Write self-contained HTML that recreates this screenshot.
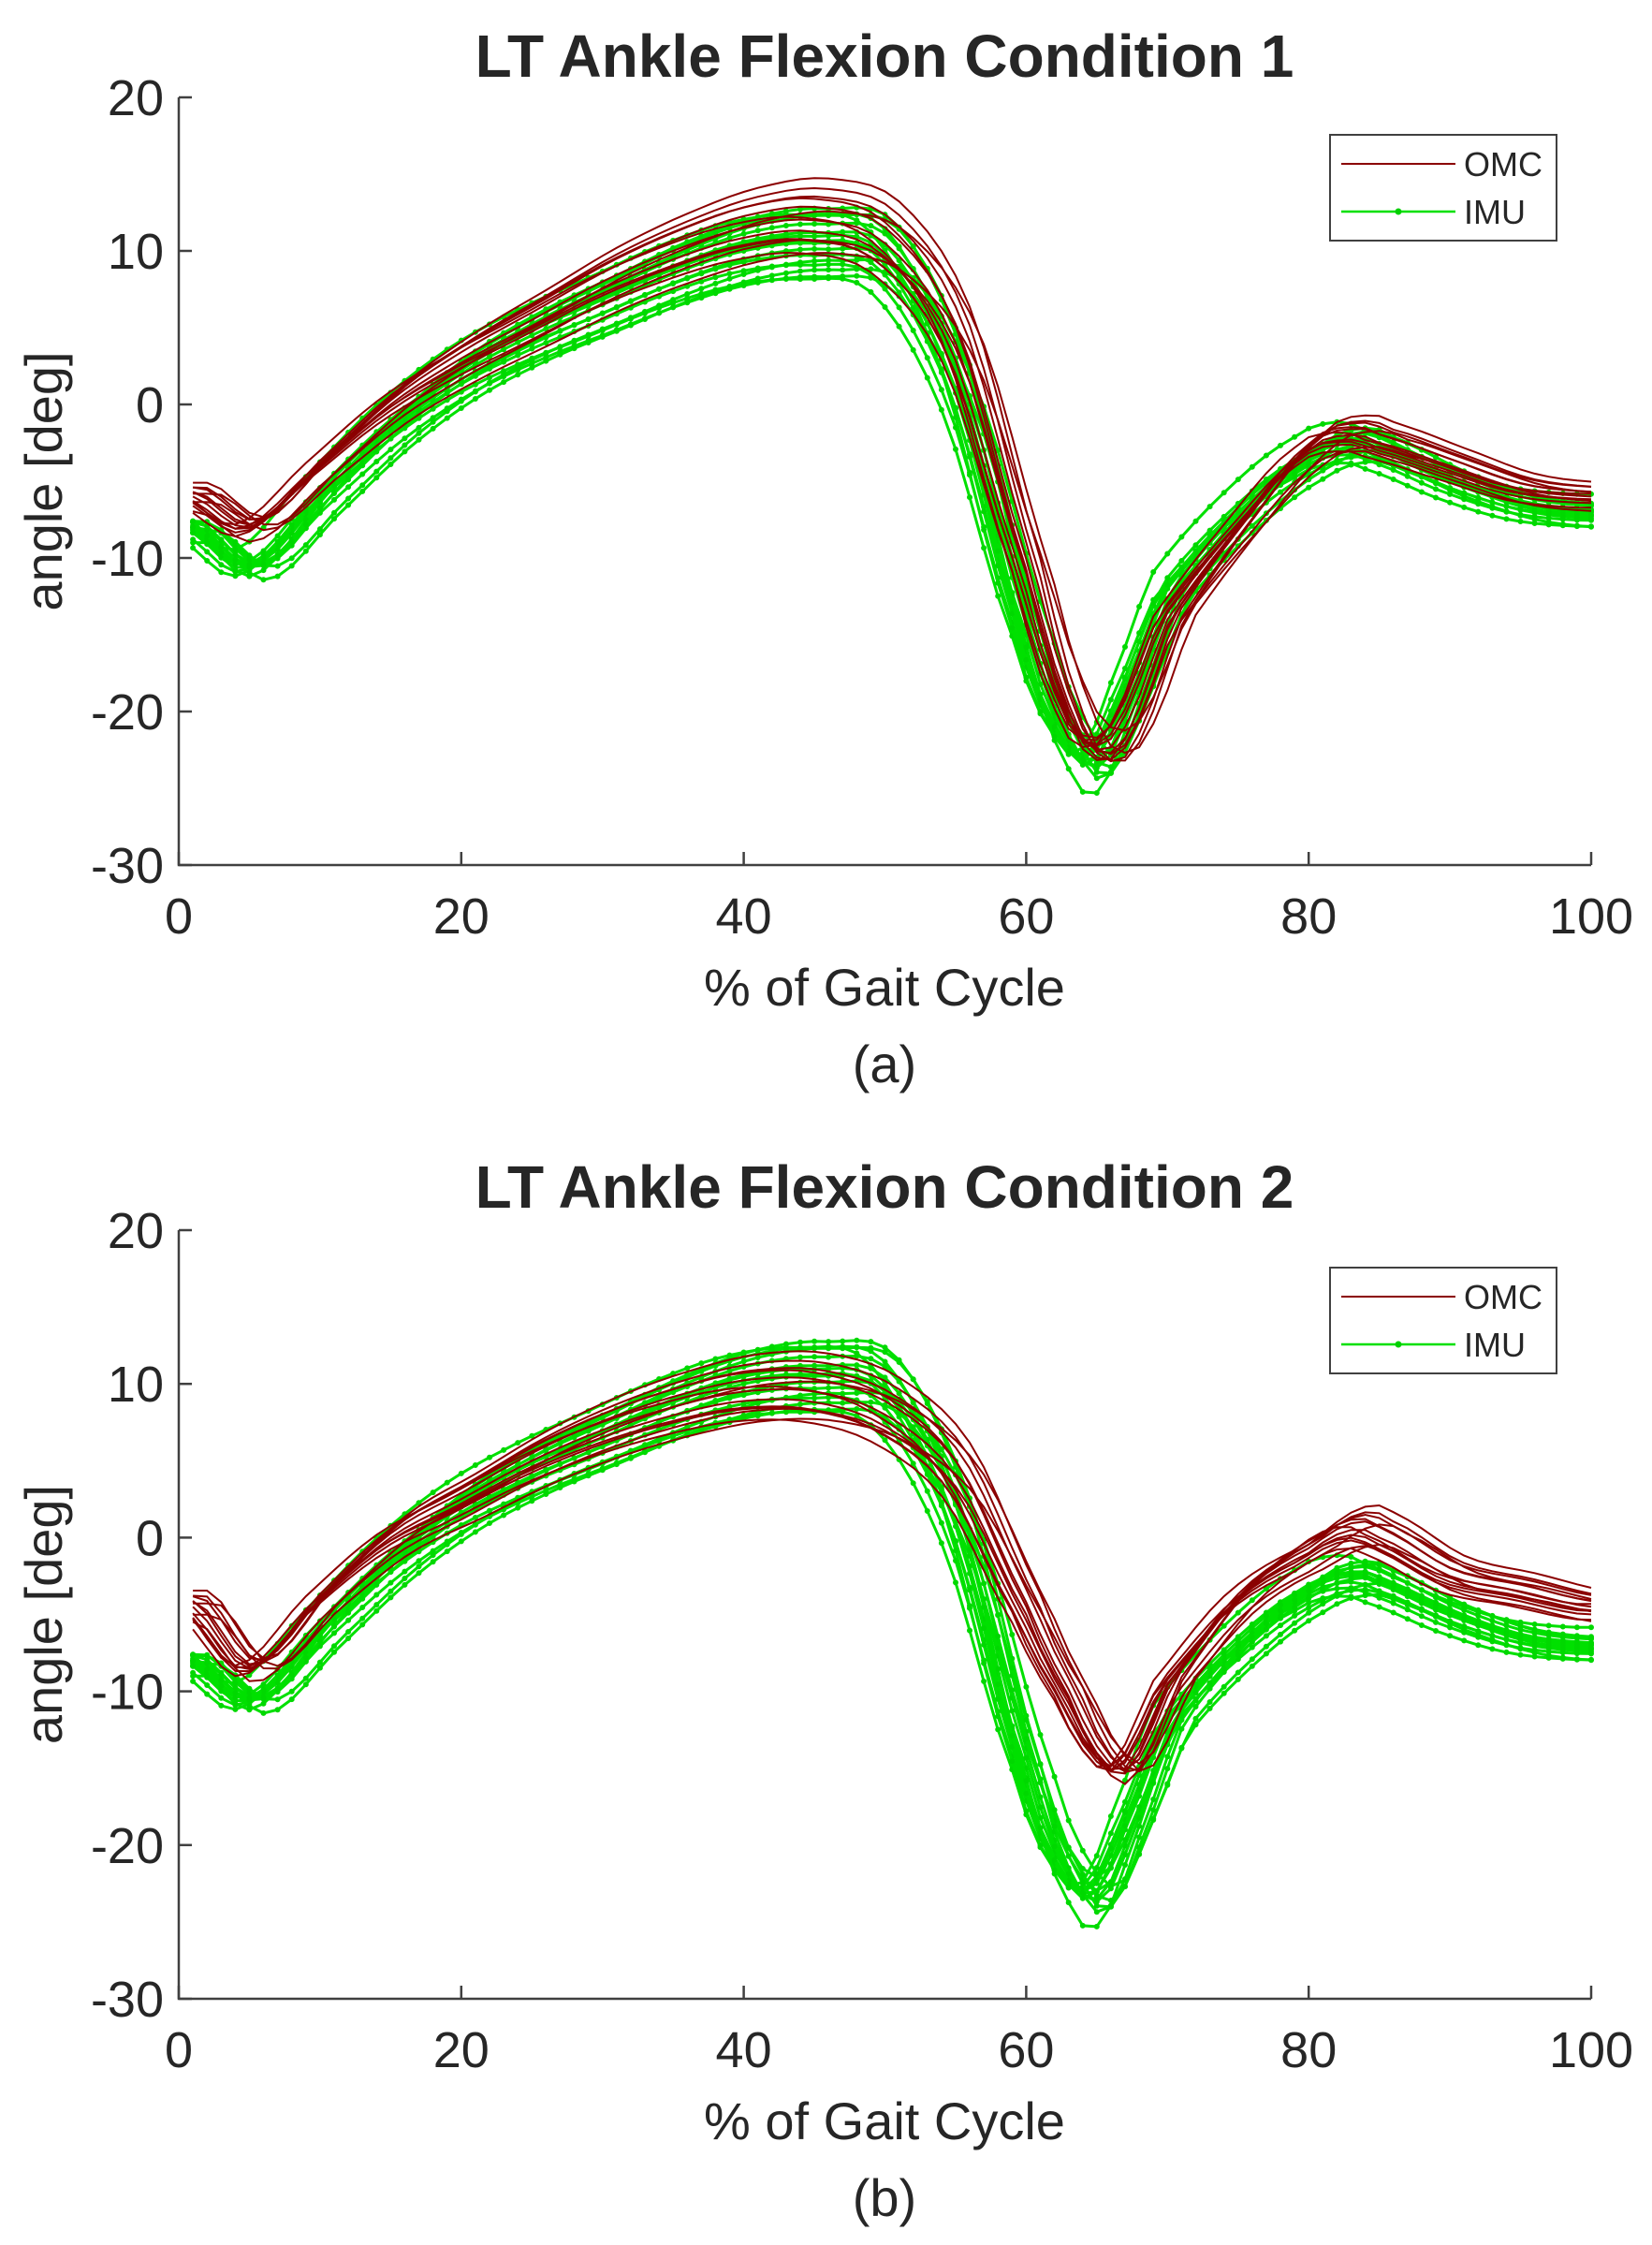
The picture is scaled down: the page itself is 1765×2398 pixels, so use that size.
<!DOCTYPE html>
<html><head><meta charset="utf-8"><style>
body{margin:0;background:#fff}
svg{display:block}
text{font-family:"Liberation Sans",sans-serif;fill:#262626}
</style></head><body>
<svg id="fig" width="1765" height="2398" viewBox="0 0 1765 2398" xmlns="http://www.w3.org/2000/svg"></svg>
<script>
// Data
const xs = [1,5,10,15,20,25,30,35,40,45,50,55,60,63,65,67,70,75,80,83,85,90,95,100];
const omc1 = [-6,-8,-4,0,3,5.5,8,10,11.5,12,10.5,4,-11,-20,-22.5,-21,-14,-8,-3,-2,-2.5,-4,-5.5,-6];
const imu1 = [-8,-10.5,-6,-1.5,2,4.5,6.5,8.5,10,10.5,9.5,1,-15,-22,-23,-19,-12,-7,-3.5,-2.5,-3,-5,-6.5,-7];
const omc2 = [-4.5,-8.5,-4,0,2.5,5,7,8.5,9.5,9.5,8,4,-5,-10.5,-14,-15,-9.5,-4,-1,0.5,0,-2.5,-3.5,-4.5];
const imu2 = [-8,-10.5,-6,-1.5,2,4.5,6.5,8.5,10,10.5,9.5,1,-15,-22,-23,-19,-12,-7,-3.5,-2.5,-3,-5,-6.5,-7];
const omcOffsets = [0,1.5,-1.2,2.5,-2,0.8,-0.6,1.8,-1.6,0.3,1.1,-0.9,0.5,-1.8];
const omcScales = [1,1.05,0.95,1.1,0.92,1.03,0.97,1.08,0.9,1.0,1.06,0.94,1.02,0.98];
const omcShifts = [0,0.6,-0.5,1.2,-0.8,0.3,-0.3,0.9,1.5,-1,0.1,-0.6,1.8,0.4];
const imuOffsets = [0,1.2,-1.5,2,-2.5,0.6,-0.8,1.6,-1.9,0.2,1,-1,0.4,-0.3,2.4,-2.2];
const imuScales = [1,1.05,0.95,1.1,0.92,1.03,0.97,1.08,0.9,1.0,1.12,0.95,1.02,0.98,1.04,0.96];
const imuShifts = [0,0.5,-0.6,0.9,-0.9,0.3,-0.3,1.2,0.6,-0.5,0.2,1.8,-0.2,0.7,-1.1,1.4];
const xTicks = [0,20,40,60,80,100];
const yTicks = [20,10,0,-10,-20,-30];

const NS="http://www.w3.org/2000/svg";
const svg=document.getElementById('fig');
function mk(tag,attrs,parent){const e=document.createElementNS(NS,tag);for(const k in attrs)e.setAttribute(k,attrs[k]);(parent||svg).appendChild(e);return e;}
function interp(arr,x){
  if(x<=xs[0])return arr[0];
  for(let i=0;i<xs.length-1;i++){
    if(x<=xs[i+1]){
      const p0=arr[Math.max(0,i-1)],p1=arr[i],p2=arr[i+1],p3=arr[Math.min(arr.length-1,i+2)];
      const t=(x-xs[i])/(xs[i+1]-xs[i]);
      const t2=t*t,t3=t2*t;
      return 0.5*((2*p1)+(-p0+p2)*t+(2*p0-5*p1+4*p2-p3)*t2+(-p0+3*p1-3*p2+p3)*t3);
    }
  }
  return arr[arr.length-1];
}
function chart(cfg){
  const g=mk('g',{});
  
  
  const L=191,R=1700,T=cfg.top,B=cfg.bottom;
  const sx=v=>L+(v-0)/(100)*(R-L);
  const sy=v=>T+(20-v)/50*(B-T);
  const title=mk('text',{x:945,y:cfg.titleY,'text-anchor':'middle','font-size':64,'font-weight':'bold'},g);
  title.textContent=cfg.title;
  
  
  const lines=mk('g',{fill:'none'},g);
  
  
  function curve(base,off,sc,sh){
    const pts=[];
    for(let x=1;x<=100;x++){
      const xx=Math.min(100,Math.max(1,x-sh));
      const v=interp(base,xx)*sc+off*0.6;
      pts.push([sx(x),sy(v)]);
    }
    return pts;
  }
  for(let k=0;k<imuOffsets.length;k++){
    const pts=curve(cfg.imu,imuOffsets[k],imuScales[k],imuShifts[k]);
    const p=mk('path',{d:'M'+pts.map(q=>q[0].toFixed(1)+','+q[1].toFixed(1)).join('L'),stroke:'#00e000','stroke-width':3},lines);
    
    
    const m=mk('path',{d:pts.map(q=>'M'+q[0].toFixed(1)+','+q[1].toFixed(1)+'h0').join(''),stroke:'#00d800','stroke-width':6,'stroke-linecap':'round'},lines);
    
    
  }
  for(let k=0;k<omcOffsets.length;k++){
    const pts=curve(cfg.omc,omcOffsets[k],omcScales[k],omcShifts[k]);
    const p=mk('path',{d:'M'+pts.map(q=>q[0].toFixed(1)+','+q[1].toFixed(1)).join('L'),stroke:'#8b0000','stroke-width':2},lines);
    
    
  }
  const ax=mk('path',{d:`M${L},${T}V${B}H${R}`,stroke:'#404040','stroke-width':2.5,fill:'none'},g);
  
  
  xTicks.forEach(v=>{
    mk('line',{x1:sx(v),x2:sx(v),y1:B,y2:B-14,stroke:'#404040','stroke-width':2.5},g);
    const t=mk('text',{x:sx(v),y:B+73,'text-anchor':'middle','font-size':54},g);
    t.textContent=v;
    
    
  });
  yTicks.forEach(v=>{
    mk('line',{x1:L,x2:L+14,y1:sy(v),y2:sy(v),stroke:'#404040','stroke-width':2.5},g);
    const t=mk('text',{x:L-16,y:sy(v)+19,'text-anchor':'end','font-size':54},g);
    t.textContent=v;
    
    
  });
  const xl=mk('text',{x:945,y:B+150,'text-anchor':'middle','font-size':56},g);
  xl.textContent='% of Gait Cycle';
  
  
  const yl=mk('text',{x:0,y:0,'text-anchor':'middle','font-size':56,transform:`translate(66,${(T+B)/2}) rotate(-90)`},g);
  yl.textContent='angle [deg]';
  
  
  const cap=mk('text',{x:945,y:B+232,'text-anchor':'middle','font-size':56},g);
  cap.textContent=cfg.caption;
  
  
  const lg=mk('g',{},g);
  
  
  const lt=T+40;
  mk('rect',{x:1421,y:lt,width:242,height:113,fill:'#fff',stroke:'#404040','stroke-width':2},lg);
  mk('line',{x1:1433,x2:1555,y1:lt+31,y2:lt+31,stroke:'#8b0000','stroke-width':2},lg);
  mk('line',{x1:1433,x2:1555,y1:lt+82,y2:lt+82,stroke:'#00e000','stroke-width':2.5},lg);
  mk('circle',{cx:1494,cy:lt+82,r:3.5,fill:'#00d000'},lg);
  const o=mk('text',{x:1564,y:lt+44,'font-size':36},lg);o.textContent='OMC';
  
  
  const i=mk('text',{x:1564,y:lt+95,'font-size':36},lg);i.textContent='IMU';
  
  
}
chart({name:'chart-condition-1',title:'LT Ankle Flexion Condition 1',titleY:82,top:104,bottom:924,omc:omc1,imu:imu1,caption:'(a)'});
chart({name:'chart-condition-2',title:'LT Ankle Flexion Condition 2',titleY:1290,top:1314,bottom:2135,omc:omc2,imu:imu2,caption:'(b)'});
</script>
</body></html>
